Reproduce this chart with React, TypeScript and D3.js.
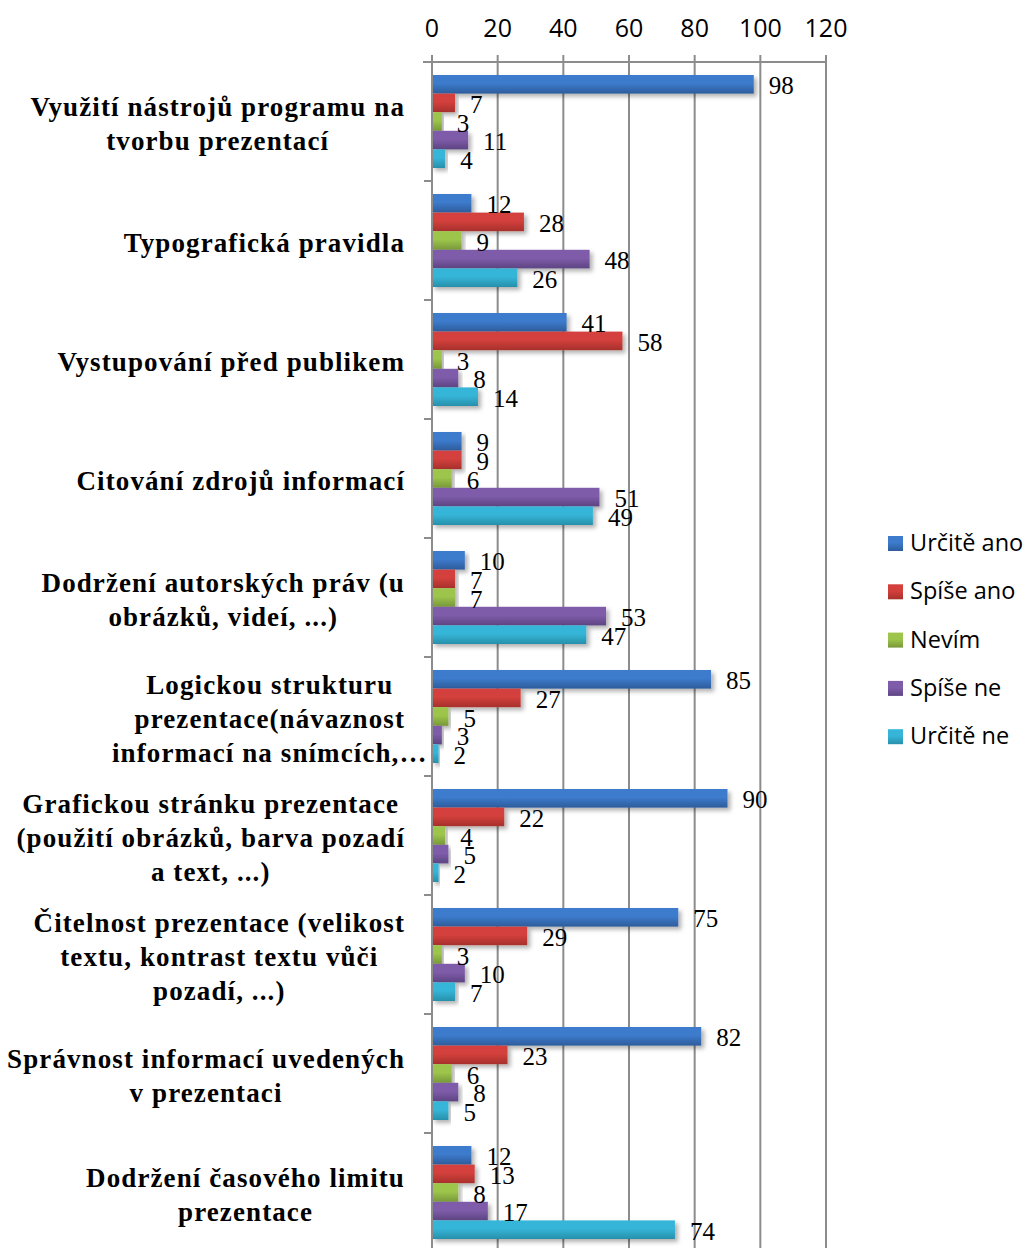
import React, { useEffect, useRef } from "react";
import * as d3 from "d3";

// Survey categories (each entry is the list of wrapped lines of the label)
const categoryLines: string[][] = [
  ["Využití nástrojů programu na", "tvorbu prezentací"],
  ["Typografická pravidla"],
  ["Vystupování před publikem"],
  ["Citování zdrojů informací"],
  ["Dodržení autorských práv (u", "obrázků, videí, ...)"],
  ["Logickou strukturu", "prezentace(návaznost", "informací na snímcích,…"],
  ["Grafickou stránku prezentace", "(použití obrázků, barva pozadí", "a text, ...)"],
  ["Čitelnost prezentace (velikost", "textu, kontrast textu vůči", "pozadí, ...)"],
  ["Správnost informací uvedených", "v prezentaci"],
  ["Dodržení časového limitu", "prezentace"],
];

const seriesNames = ["Určitě ano", "Spíše ano", "Nevím", "Spíše ne", "Určitě ne"];

const urciteAno = [98, 12, 41, 9, 10, 85, 90, 75, 82, 12];
const spiseAno = [7, 28, 58, 9, 7, 27, 22, 29, 23, 13];
const nevim = [3, 9, 3, 6, 7, 5, 4, 3, 6, 8];
const spiseNe = [11, 48, 8, 51, 53, 3, 5, 10, 8, 17];
const urciteNe = [4, 26, 14, 49, 47, 2, 2, 7, 5, 74];

const xTicks = [0, 20, 40, 60, 80, 100, 120];

const seriesValues = [urciteAno, spiseAno, nevim, spiseNe, urciteNe];
const seriesColors: [string, string][] = [
  ["#3d7bcc", "#2d5c9b"],
  ["#d3403c", "#a7302c"],
  ["#9dc54b", "#789839"],
  ["#7f5caa", "#5d4482"],
  ["#36b5d8", "#2790ab"],
];

const W = 1025;
const H = 1248;
const plotLeft = 432;
const plotRight = 826;
const plotTop = 62;
const bandSize = 119;
const labelRight = 405;

export default function App() {
  const ref = useRef<SVGSVGElement | null>(null);

  useEffect(() => {
    const svg = d3.select(ref.current);
    svg.selectAll("*").remove();

    const defs = svg.append("defs");
    seriesColors.forEach(([c1, c2], i) => {
      const g = defs
        .append("linearGradient")
        .attr("id", `grad${i}`)
        .attr("x1", 0)
        .attr("y1", 0)
        .attr("x2", 0)
        .attr("y2", 1);
      g.append("stop").attr("offset", "0%").attr("stop-color", c1);
      g.append("stop").attr("offset", "45%").attr("stop-color", c1);
      g.append("stop").attr("offset", "100%").attr("stop-color", c2);
    });
    const filt = defs
      .append("filter")
      .attr("id", "shadow")
      .attr("x", "-5%")
      .attr("y", "-20%")
      .attr("width", "120%")
      .attr("height", "160%");
    filt
      .append("feDropShadow")
      .attr("dx", 3)
      .attr("dy", 3)
      .attr("stdDeviation", 2)
      .attr("flood-color", "#000")
      .attr("flood-opacity", 0.3);

    const cats = categoryLines.map((_, i) => String(i));
    const y = d3
      .scaleBand<string>()
      .domain(cats)
      .range([plotTop, plotTop + bandSize * cats.length])
      .padding(0);
    const inner = d3
      .scaleBand<string>()
      .domain(seriesNames)
      .range([13, bandSize - 13])
      .padding(0);
    const x = d3.scaleLinear().domain([0, 120]).range([plotLeft, plotRight]);

    const gridColor = "#8c8c8c";

    // vertical gridlines and top tick marks
    svg
      .append("g")
      .selectAll("line")
      .data(xTicks)
      .join("line")
      .attr("x1", (d) => x(d))
      .attr("x2", (d) => x(d))
      .attr("y1", plotTop - 7)
      .attr("y2", H + 10)
      .attr("stroke", gridColor)
      .attr("stroke-width", 2);

    // top axis line
    svg
      .append("line")
      .attr("x1", plotLeft - 9)
      .attr("x2", plotRight + 1)
      .attr("y1", plotTop)
      .attr("y2", plotTop)
      .attr("stroke", gridColor)
      .attr("stroke-width", 2);

    // category tick marks
    svg
      .append("g")
      .selectAll("line")
      .data(cats.slice(1))
      .join("line")
      .attr("x1", plotLeft - 8)
      .attr("x2", plotLeft)
      .attr("y1", (d) => y(d)!)
      .attr("y2", (d) => y(d)!)
      .attr("stroke", gridColor)
      .attr("stroke-width", 2);

    // x tick labels
    svg
      .append("g")
      .selectAll("text")
      .data(xTicks)
      .join("text")
      .attr("x", (d) => x(d))
      .attr("y", 37)
      .attr("text-anchor", "middle")
      .attr("font-family", "'Open Sans', sans-serif")
      .attr("font-size", 25)
      .attr("fill", "#000")
      .text((d) => String(d));

    // bars
    seriesValues.forEach((vals, si) => {
      const g = svg.append("g");
      g.selectAll("rect")
        .data(vals)
        .join("rect")
        .attr("x", x(0))
        .attr("y", (_, i) => y(String(i))! + inner(seriesNames[si])!)
        .attr("width", (d) => x(d) - x(0))
        .attr("height", inner.bandwidth())
        .attr("fill", `url(#grad${si})`)
        .attr("filter", "url(#shadow)");
    });

    // y axis line
    svg
      .append("line")
      .attr("x1", plotLeft)
      .attr("x2", plotLeft)
      .attr("y1", plotTop)
      .attr("y2", H + 10)
      .attr("stroke", gridColor)
      .attr("stroke-width", 2);

    // value labels
    seriesValues.forEach((vals, si) => {
      svg
        .append("g")
        .selectAll("text")
        .data(vals)
        .join("text")
        .attr("x", (d) => x(d) + 15)
        .attr("y", (_, i) => y(String(i))! + inner(seriesNames[si])! + inner.bandwidth() / 2 + 10)
        .attr("font-family", "'Liberation Serif', 'Times New Roman', serif")
        .attr("font-size", 25)
        .attr("fill", "#000")
        .text((d) => String(d));
    });

    // category labels: lines centered on each other, widest line right-aligned
    const lineH = 34;
    categoryLines.forEach((lines, ci) => {
      const g = svg.append("g");
      const cy = y(String(ci))! + bandSize / 2 + 2;
      const texts = lines.map((ln, li) =>
        g
          .append("text")
          .attr("y", cy + (li - (lines.length - 1) / 2) * lineH + 9)
          .attr("text-anchor", "middle")
          .attr("font-family", "'Liberation Serif', 'Times New Roman', serif")
          .attr("font-weight", "bold")
          .attr("font-size", 27)
          .attr("letter-spacing", 1.1)
          .attr("fill", "#000")
          .text(ln)
      );
      const widths = texts.map((t, li) =>
        lines[li].endsWith("…") ? 0 : (t.node() as SVGTextElement).getComputedTextLength()
      );
      const maxW = Math.max(...widths);
      const center = labelRight - maxW / 2;
      texts.forEach((t) => t.attr("x", center));
    });

    // legend
    const legend = svg.append("g").attr("transform", "translate(888,543)");
    seriesNames.forEach((name, i) => {
      const item = legend.append("g").attr("transform", `translate(0,${i * 48.3})`);
      item
        .append("rect")
        .attr("x", 0)
        .attr("y", -7)
        .attr("width", 15)
        .attr("height", 15)
        .attr("fill", `url(#grad${i})`);
      item
        .append("text")
        .attr("x", 22)
        .attr("y", 8)
        .attr("font-family", "'Open Sans', sans-serif")
        .attr("font-size", 23.5)
        .attr("fill", "#000")
        .text(name);
    });
  }, []);

  return (
    <div style={{ position: "absolute", left: 0, top: 0 }}>
      <svg ref={ref} width={W} height={H} style={{ display: "block", background: "#fff" }} />
    </div>
  );
}
